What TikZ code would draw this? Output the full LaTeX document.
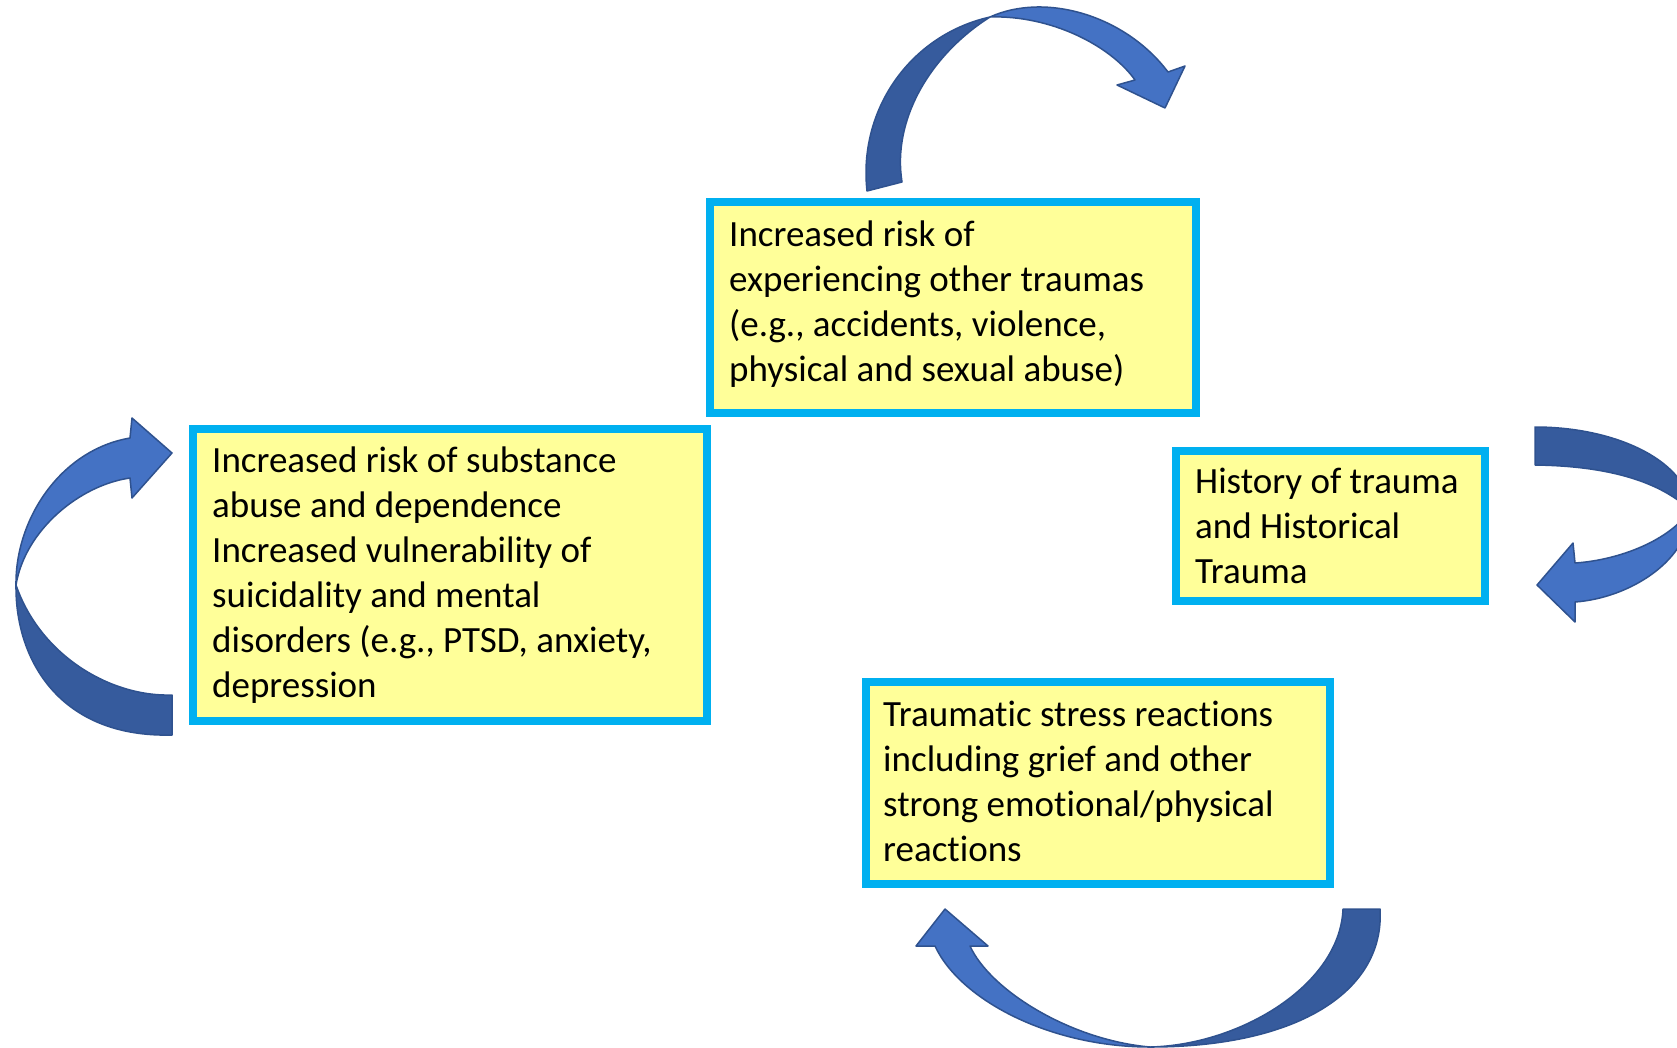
\documentclass[tikz,border=0pt]{standalone}
\usepackage{fontspec}
\setmainfont[Ligatures=NoCommon]{Carlito}
\definecolor{boxcyan}{HTML}{00B0F0}
\definecolor{boxyellow}{HTML}{FFFF99}
\definecolor{arrlight}{HTML}{4472C4}
\definecolor{arrdark}{HTML}{365B9D}
\definecolor{arredge}{HTML}{2F528F}
\begin{document}
\begin{tikzpicture}[x=1pt,y=-1pt,
  box/.style={draw=boxcyan, line width=8pt, fill=boxyellow, rectangle, inner sep=0pt},
  txt/.style={anchor=west, align=left, inner sep=0pt, text=black,
    font=\fontsize{37}{45}\selectfont},
  darkpart/.style={fill=arrdark, draw=arredge, line width=1.5pt, line join=round},
  lightpart/.style={fill=arrlight, draw=arredge, line width=1.5pt, line join=round}]
\useasboundingbox (0,0) rectangle (1677,1047);
\clip (0,0) rectangle (1677,1047);

% boxes
\node[box, minimum width=486pt, minimum height=211pt] (top) at (953,307.5) {};
\node[txt] (topt) at ([xshift=23pt,yshift=3pt]top.west) {Increased risk of\\experiencing other traumas\\(e.g., accidents, violence,\\physical and sexual abuse)};

\node[box, minimum width=514pt, minimum height=292pt] (left) at (450,575) {};
\node[txt] (leftt) at ([xshift=23pt]left.west) {Increased risk of substance\\abuse and dependence\\Increased vulnerability of\\suicidality and mental\\disorders (e.g., PTSD, anxiety,\\depression};

\node[box, minimum width=309pt, minimum height=150pt] (right) at (1330.5,526) {};
\node[txt] (rightt) at ([xshift=23pt]right.west) {History of trauma\\and Historical\\Trauma};

\node[box, minimum width=464pt, minimum height=202pt] (bottom) at (1098,783) {};
\node[txt] (bottomt) at ([xshift=21pt,yshift=2pt]bottom.west) {Traumatic stress reactions\\including grief and other\\strong emotional/physical\\reactions};

% top curved arrow
\path[darkpart] (867,191) .. controls (858,110) and (910,35) .. (990,17)
  .. controls (930,55) and (892,120) .. (902,182) -- cycle;
\path[lightpart] (990,17) .. controls (1045,-8) and (1125,15) .. (1168,72)
  -- (1185,66) -- (1165,108) -- (1117,85) -- (1135,80)
  .. controls (1110,45) and (1050,15) .. (990,17) -- cycle;

% right curved arrow
\path[darkpart] (1535,427) .. controls (1620,427) and (1690,464) .. (1690,510)
  .. controls (1660,482) and (1610,466) .. (1535,465) -- cycle;
\path[lightpart] (1690,510) .. controls (1690,560) and (1630,598) .. (1575,602)
  -- (1575,622) -- (1537,585) -- (1573,543) -- (1575,563)
  .. controls (1620,560) and (1670,540) .. (1690,510) -- cycle;

% bottom curved arrow
\path[darkpart] (1380,909) .. controls (1385,990) and (1300,1047) .. (1150,1047)
  .. controls (1240,1045) and (1340,985) .. (1343,909) -- cycle;
\path[lightpart] (1150,1047) .. controls (1050,1047) and (960,1000) .. (935,946)
  -- (916,946) -- (945,909) -- (988,946) -- (970,946)
  .. controls (990,990) and (1070,1040) .. (1150,1047) -- cycle;

% left curved arrow
\path[darkpart] (172,735) .. controls (60,738) and (15,660) .. (16,585)
  .. controls (40,655) and (110,697) .. (172,695) -- cycle;
\path[lightpart] (16,585) .. controls (15,520) and (60,450) .. (130,438)
  -- (132,418) -- (172,453) -- (132,498) -- (130,478)
  .. controls (80,485) and (25,530) .. (16,585) -- cycle;
\end{tikzpicture}
\end{document}
